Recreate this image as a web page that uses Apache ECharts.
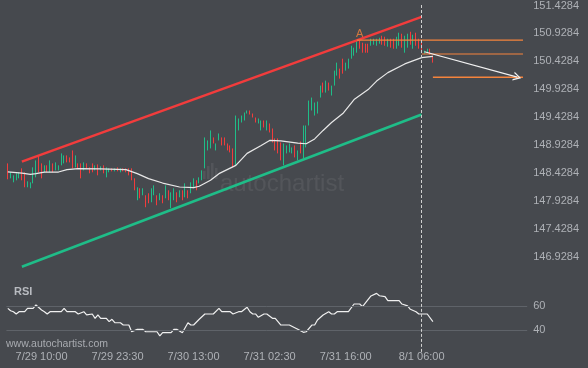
<!DOCTYPE html>
<html><head><meta charset="utf-8">
<script src="https://cdn.jsdelivr.net/npm/echarts@6/dist/echarts.min.js"></script>
<style>html,body{margin:0;padding:0;background:#46494e;}#c{width:588px;height:368px;}</style>
</head><body><div id="c"></div>
<script>
// ---- data ----
const yTicks = [146.9284,147.4284,147.9284,148.4284,148.9284,149.4284,149.9284,150.4284,150.9284,151.4284];
const rsiTicks = [40, 60];
const xTickIdx = [12, 39, 66, 93, 120, 147];
const xTickLabels = ['7/29 10:00','7/29 23:30','7/30 13:00','7/31 02:30','7/31 16:00','8/1 06:00'];
// [open, close, low, high]
const candles = [
[148.601,148.316,148.316,148.601],[148.333,148.441,148.333,148.441],[148.262,148.387,148.262,148.387],[148.298,148.423,148.298,148.423],
[148.333,148.441,148.333,148.441],[148.512,148.298,148.298,148.512],[148.441,148.173,148.173,148.441],[148.173,148.280,148.173,148.280],
[148.155,148.262,148.155,148.262],[148.244,148.530,148.244,148.530],[148.351,148.655,148.351,148.655],[148.744,148.441,148.441,148.744],
[148.601,148.333,148.333,148.601],[148.441,148.566,148.441,148.566],[148.566,148.441,148.441,148.566],[148.441,148.655,148.441,148.655],
[148.601,148.441,148.441,148.601],[148.476,148.619,148.476,148.619],[148.476,148.566,148.476,148.566],[148.566,148.780,148.566,148.780],
[148.601,148.744,148.601,148.744],[148.744,148.619,148.619,148.744],[148.708,148.619,148.619,148.708],[148.833,148.512,148.512,148.833],
[148.530,148.744,148.530,148.744],[148.601,148.512,148.512,148.601],[148.601,148.333,148.333,148.601],[148.476,148.619,148.476,148.619],
[148.601,148.512,148.512,148.601],[148.530,148.423,148.423,148.530],[148.601,148.441,148.441,148.601],[148.476,148.566,148.476,148.566],
[148.583,148.387,148.387,148.583],[148.476,148.548,148.476,148.548],[148.566,148.423,148.423,148.566],[148.351,148.530,148.351,148.530],
[148.441,148.512,148.441,148.512],[148.512,148.458,148.458,148.512],[148.458,148.512,148.458,148.512],[148.530,148.458,148.458,148.530],
[148.441,148.512,148.441,148.512],[148.512,148.458,148.458,148.512],[148.512,148.441,148.441,148.512],[148.512,148.387,148.387,148.512],
[148.512,148.298,148.298,148.512],[148.333,148.119,148.119,148.333],[147.941,148.173,147.941,148.173],[148.155,147.976,147.976,148.155],
[148.030,148.155,148.030,148.155],[148.030,147.816,147.816,148.030],[148.066,147.887,147.887,148.066],[147.905,148.155,147.905,148.155],
[148.030,148.208,148.030,148.208],[148.030,147.851,147.851,148.030],[147.941,148.066,147.941,148.066],[148.030,147.887,147.887,148.030],
[147.976,148.208,147.976,148.208],[148.119,147.941,147.941,148.119],[147.798,148.083,147.798,148.083],[147.941,148.155,147.941,148.155],
[148.083,147.905,147.905,148.083],[147.994,148.119,147.994,148.119],[148.119,147.941,147.941,148.119],[147.994,148.244,147.994,148.244],
[148.119,147.976,147.976,148.119],[148.066,148.262,148.066,148.262],[148.155,148.333,148.155,148.333],[148.298,148.119,148.119,148.298],
[148.244,148.351,148.244,148.351],[148.298,148.476,148.298,148.476],[148.512,149.066,148.512,149.066],[148.833,149.012,148.833,149.012],
[148.869,149.191,148.869,149.191],[149.066,148.958,148.958,149.066],[148.833,148.958,148.833,148.958],[149.012,149.137,149.012,149.137],
[149.066,148.923,148.923,149.066],[149.066,148.923,148.923,149.066],[148.958,148.833,148.833,148.958],[148.923,148.798,148.798,148.923],
[148.869,148.530,148.530,148.869],[148.566,149.458,148.566,149.458],[149.191,149.405,149.191,149.405],[149.333,149.458,149.333,149.458],
[149.369,149.512,149.369,149.512],[149.494,149.548,149.494,149.548],[149.548,149.476,149.476,149.548],[149.494,149.423,149.423,149.494],
[149.423,149.333,149.333,149.423],[149.316,149.405,149.316,149.405],[149.191,149.369,149.191,149.369],[149.369,149.244,149.244,149.369],
[149.191,149.369,149.191,149.369],[149.316,149.155,149.155,149.316],[149.226,148.976,148.976,149.226],[149.048,148.833,148.833,149.048],
[149.048,148.780,148.780,149.048],[148.976,148.655,148.655,148.976],[148.566,148.958,148.566,148.958],[148.780,148.923,148.780,148.923],
[148.798,148.958,148.798,148.958],[148.780,148.887,148.780,148.887],[148.923,148.708,148.708,148.923],[148.655,148.833,148.655,148.833],
[148.994,148.780,148.780,148.994],[148.691,149.280,148.691,149.280],[148.887,149.280,148.887,149.280],[149.280,149.726,149.280,149.726],
[149.548,149.780,149.548,149.780],[149.458,149.691,149.458,149.691],[149.494,149.708,149.494,149.708],[149.780,149.994,149.780,149.994],
[150.048,149.869,149.869,150.048],[149.869,150.083,149.869,150.083],[150.048,149.905,149.905,150.048],[149.816,149.994,149.816,149.994],
[149.994,150.262,149.994,150.262],[150.173,150.405,150.173,150.405],[150.298,150.119,150.119,150.298],[150.476,150.208,150.208,150.476],
[150.262,150.405,150.262,150.405],[150.298,150.476,150.298,150.476],[150.476,150.708,150.476,150.708],[150.530,150.673,150.530,150.673],
[150.583,150.798,150.583,150.798],[150.798,150.655,150.655,150.798],[150.762,150.583,150.583,150.762],[150.744,150.583,150.583,150.744],
[150.744,150.583,150.583,150.744],[150.708,150.833,150.708,150.833],[150.726,150.833,150.726,150.833],[150.708,150.833,150.708,150.833],
[150.744,150.851,150.744,150.851],[150.887,150.726,150.726,150.887],[150.869,150.708,150.708,150.869],[150.691,150.833,150.691,150.833],
[150.833,150.673,150.673,150.833],[150.833,150.655,150.655,150.833],[150.655,150.869,150.655,150.869],[150.708,150.941,150.708,150.941],
[150.923,150.673,150.673,150.923],[150.583,150.887,150.583,150.887],[150.673,150.923,150.673,150.923],[150.958,150.726,150.726,150.958],
[150.655,150.905,150.655,150.905],[150.941,150.708,150.708,150.941],[150.833,150.655,150.655,150.833],[150.798,150.619,150.619,150.798],
[150.566,150.619,150.566,150.619],[150.583,150.655,150.583,150.655],[150.655,150.548,150.548,150.655],[150.530,150.405,150.405,150.530]
];
// moving average [slot, value]
const maPoints = [[0,148.449],[5,148.428],[8,148.405],[10,148.417],[13,148.446],[18,148.446],[21,148.489],[25,148.507],[33,148.503],
[42,148.489],[46,148.417],[50,148.328],[55,148.249],[61,148.178],[66,148.167],[68,148.191],[72,148.298],[75,148.417],[81,148.566],
[85,148.780],[90,148.923],[93,149.012],[97,149.003],[103,148.964],[106,148.953],[109,149.039],[112,149.191],[115,149.333],[119,149.494],
[123,149.744],[128,149.923],[131,150.075],[135,150.226],[141,150.382],[147,150.494],[151,150.517]];
// RSI [slot, value]
const rsiPoints = [[0,58.3],[1,56.3],[2,55.5],[3,53.6],[4,55.5],[6,55.5],[7,58.3],[9,58.3],[10,61.1],[12,56.9],[13,55.5],[14,53.6],
[15,55.5],[19,55.5],[20,58.3],[21,55.5],[24,55.5],[25,53.6],[27,55.5],[28,52.8],[30,53.6],[31,50],[32,52.8],[33,50],[35,50],[36,47.2],
[37,49.2],[38,46.3],[40,46.3],[41,44.4],[43,44.4],[44,38.8],[46,40.8],[48,40.8],[49,38.8],[53,38.8],[54,35.3],[55,38],[58,38],[59,40.8],
[60,40.8],[62,38],[64,46.3],[65,44.4],[66,44.4],[68,49.2],[70,53.6],[73,53.6],[75,58.3],[76,55.5],[79,55.5],[80,53.6],[82,55.5],[83,55.5],
[85,59.2],[86,55.5],[87,53.6],[88,53.6],[89,50.8],[91,53.6],[92,53.6],[94,50],[95,50],[97,44.4],[100,44.4],[103,40.8],[105,38.3],
[106,38.8],[108,44.4],[109,44.4],[110,48.6],[112,52.8],[114,55.5],[115,53.6],[116,53.6],[117,55.5],[121,55.5],[123,61.9],[125,61.9],
[126,59.7],[129,68.6],[131,70.8],[132,68.8],[134,68],[135,64.7],[139,64.7],[140,61.9],[142,60.3],[143,57.5],[145,55.5],[146,53.6],
[149,53.6],[151,47.2]];
const resistance = [[5,148.632],[147,151.225]];
const support = [[5,146.750],[147,149.477]];
const levelA = [[124,150.810],[183,150.810]];
const levelB = [[147,150.560],[183,150.560]];
const levelC = [[151,150.143],[183,150.143]];
const forecast = [[148,150.600],[181,150.145]];
const pointA = [[125,150.810]];
const nowIdx = 147;
const slotCount = 185;

// ---- chart ----
const slots = Array.from({length: slotCount}, (_, i) => String(i));
const GREEN = '#1fbd88', RED = '#f23c3c', ORANGE = '#f5843c', TXT = '#aeb1b6', FONT = '"Liberation Sans", Arial, sans-serif';
const chart = echarts.init(document.getElementById('c'));
const GL = 6.4, GR = 60.8;
chart.setOption({
  backgroundColor: '#46494e',
  animation: false,
  textStyle: {fontFamily: FONT},
  grid: [{left: GL, right: GR, top: 4, height: 284}, {left: GL, right: GR, top: 288.3, height: 63.6}],
  xAxis: [
    {type: 'category', data: slots, gridIndex: 0, boundaryGap: true, show: false},
    {type: 'category', data: slots, gridIndex: 1, boundaryGap: true,
     axisLine: {show: false}, axisTick: {show: false}, splitLine: {show: false},
     axisLabel: {interval: (i) => xTickIdx.includes(i), formatter: (v, i) => { const k = xTickIdx.indexOf(i); return k >= 0 ? xTickLabels[k] : ''; },
       color: TXT, fontSize: 11, margin: 0, fontFamily: FONT}}
  ],
  yAxis: [
    {type: 'value', gridIndex: 0, position: 'right', min: 146.3695, max: 151.4409, scale: true,
     splitLine: {show: false}, axisLine: {show: false}, axisTick: {show: false},
     axisLabel: {customValues: yTicks, formatter: (v) => v.toFixed(4), color: TXT, fontSize: 11, margin: 6, fontFamily: FONT}},
    {type: 'value', gridIndex: 1, position: 'right', min: 22, max: 75,
     splitLine: {show: false}, axisLine: {show: false}, axisTick: {show: false},
     axisLabel: {customValues: rsiTicks, color: TXT, fontSize: 11, margin: 6, fontFamily: FONT}}
  ],
  series: [
    {type: 'candlestick', xAxisIndex: 0, yAxisIndex: 0, data: candles, barWidth: 1,
     itemStyle: {color: GREEN, color0: RED, borderColor: GREEN, borderColor0: RED, borderWidth: 1},
     markLine: {silent: true, symbol: ['none', 'none'], label: {show: false},
       lineStyle: {color: '#d0d0d0', type: [3, 2], width: 1}, data: [{xAxis: nowIdx}]}},
    {type: 'line', xAxisIndex: 0, yAxisIndex: 0, data: maPoints, symbol: 'none', lineStyle: {color: '#e8e8e8', width: 1.2}},
    {type: 'line', xAxisIndex: 0, yAxisIndex: 0, data: resistance, symbol: 'none', lineStyle: {color: RED, width: 2.5}},
    {type: 'line', xAxisIndex: 0, yAxisIndex: 0, data: support, symbol: 'none', lineStyle: {color: GREEN, width: 2.5}},
    {type: 'line', xAxisIndex: 0, yAxisIndex: 0, data: levelA, symbol: 'none', lineStyle: {color: ORANGE, width: 1.2}},
    {type: 'line', xAxisIndex: 0, yAxisIndex: 0, data: levelB, symbol: 'none', lineStyle: {color: ORANGE, width: 1.2}},
    {type: 'line', xAxisIndex: 0, yAxisIndex: 0, data: levelC, symbol: 'none', lineStyle: {color: ORANGE, width: 1.5},
     markLine: {silent: true, symbol: ['none', 'path://M0,10 L5,0 L10,10 L8.4,10 L5,3 L1.6,10 Z'], symbolSize: [9, 8],
       label: {show: false}, lineStyle: {color: '#f2f2f2', width: 1.2, type: 'solid'},
       data: [[{coord: forecast[0]}, {coord: forecast[1]}]]}},
    {type: 'scatter', xAxisIndex: 0, yAxisIndex: 0, data: pointA, symbolSize: 1, itemStyle: {color: 'rgba(0,0,0,0)'},
     label: {show: true, formatter: 'A', position: 'top', distance: 0, color: ORANGE, fontSize: 11, fontFamily: FONT}},
    {type: 'line', xAxisIndex: 1, yAxisIndex: 1, data: rsiPoints, symbol: 'none', lineStyle: {color: '#f0f0f0', width: 1.2},
     markLine: {silent: true, symbol: ['none', 'none'], label: {show: false},
       lineStyle: {color: '#5f6369', width: 1, type: 'solid'},
       data: [{yAxis: 40}, {yAxis: 60}, {xAxis: nowIdx, lineStyle: {color: '#d0d0d0', type: [3, 2], width: 1}}]}}
  ],
  graphic: [
    {type: 'text', left: 220, top: 172, silent: true, style: {text: 'autochartist', fill: 'rgba(255,255,255,0.07)', font: '24px ' + FONT}},
    {type: 'rect', left: 203, top: 171, shape: {width: 2.5, height: 8}, style: {fill: 'rgba(255,255,255,0.07)'}},
    {type: 'rect', left: 207, top: 166, shape: {width: 2.5, height: 13}, style: {fill: 'rgba(255,255,255,0.07)'}},
    {type: 'rect', left: 211, top: 163, shape: {width: 2.5, height: 16}, style: {fill: 'rgba(255,255,255,0.07)'}},
    {type: 'rect', left: 215, top: 168, shape: {width: 2.5, height: 11}, style: {fill: 'rgba(255,255,255,0.07)'}},
    {type: 'text', left: 14, top: 286, style: {text: 'RSI', fill: '#b8bbc0', font: 'bold 11px ' + FONT}},
    {type: 'text', left: 6, top: 339, style: {text: 'www.autochartist.com', fill: '#a8abb0', font: '10.5px ' + FONT}}
  ]
});
</script></body></html>
